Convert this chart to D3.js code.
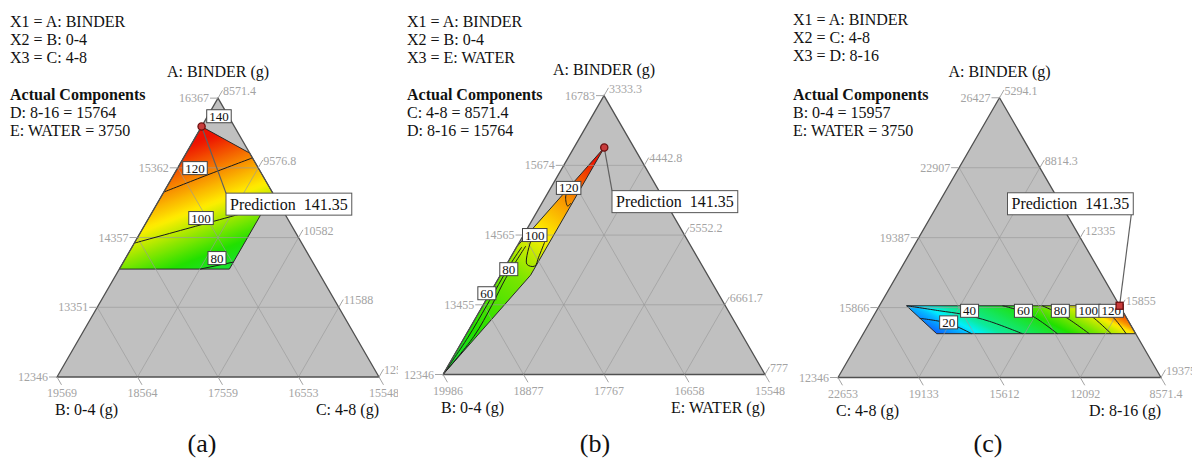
<!DOCTYPE html>
<html lang="en">
<head>
<meta charset="UTF-8" />
<title>Mixture ternary contour plots</title>
<script src="https://d3js.org/d3.v7.min.js"></script>
<style>
  html, body { margin: 0; padding: 0; background: #fff; }
  svg, svg text { font-family: "Liberation Serif", "Times New Roman", "DejaVu Serif", serif; }
</style>
</head>
<body>
<svg id="chart" width="1192" height="461" font-family="Liberation Serif, Times New Roman, DejaVu Serif, serif"></svg>
<script>
/* ---------------- data (grams), points stored as [top, right-corner] ---------------- */
const predictionText = "Prediction  141.35";

// panel (a): A top, B bottom-left, C bottom-right
const aHeader = ["X1 = A: BINDER", "X2 = B: 0-4", "X3 = C: 4-8"];
const aActual = ["D: 8-16 = 15764", "E: WATER = 3750"];
const aNames = ["A: BINDER (g)", "B: 0-4 (g)", "C: 4-8 (g)"];
const aTopTicks = ["16367", "15362", "14357", "13351", "12346"];
const aLeftTicks = ["19569", "18564", "17559", "16553", "15548"];
const aRightTicks = ["8571.4", "9576.8", "10582", "11588", "12593"];
const aRegion = [[15957, 8571.4], [15575, 9363], [14992, 9946], [13902, 9946], [13902, 8571.4]];
const aContourLines = [
  [[15012, 8571.4], [15257, 8989], [15503, 9428]],
  [[14276, 8571.4], [14537, 9262], [14795, 9946]],
  [[13902, 9581], [14003, 9946]]
];
const aLabelLevels = [140, 120, 100, 80];
const aLabelPts = [[16106, 8714], [15358, 8789], [14638, 9224], [14061, 9712]];
const aGradPts = [[15957, 8571.4], [15257, 8989], [14537, 9262], [13953, 9766], [13958, 10232]];
const aGradVals = [142, 120, 100, 80, 74];
const aPoint = [15957, 8571.4];
const aColorDomain = [10, 40, 86, 107, 136];

// panel (b): A top, B bottom-left, E bottom-right
const bHeader = ["X1 = A: BINDER", "X2 = B: 0-4", "X3 = E: WATER"];
const bActual = ["C: 4-8 = 8571.4", "D: 8-16 = 15764"];
const bNames = ["A: BINDER (g)", "B: 0-4 (g)", "E: WATER (g)"];
const bTopTicks = ["16783", "15674", "14565", "13455", "12346"];
const bLeftTicks = ["19986", "18877", "17767", "16658", "15548"];
const bRightTicks = ["3333.3", "4442.8", "5552.2", "6661.7", "7771.1"];
const bRegion = [[15957, 3750], [13926, 3750], [12346, 3333.3], [14380, 3333.3]];
const bContourLines = [
  [[15315, 3580], [15171, 3611], [15027, 3710], [15075, 3734]],
  [[14469, 3481], [14102, 3610], [14070, 3735], [14213, 3718], [14453, 3681]],
  [[12346, 3333.3], [12953, 3456], [13447, 3456], [13878, 3432], [14389, 3452]],
  [[12346, 3333.3], [12937, 3382], [13447, 3387], [14086, 3384], [14373, 3405]]
];
const bLabelLevels = [120, 100, 80, 60];
const bLabelPts = [[15315, 3580], [14565, 3488], [14022, 3402], [13639, 3291]];
const bGradPts = [[15957, 3750], [15315, 3580], [14565, 3488], [14022, 3402], [12346, 3333.3]];
const bGradVals = [142, 120, 100, 82, 58];
const bPoint = [15957, 3750];
const bColorDomain = [5, 32, 68, 102, 136];

// panel (c): A top, C bottom-left, D bottom-right
const cHeader = ["X1 = A: BINDER", "X2 = C: 4-8", "X3 = D: 8-16"];
const cActual = ["B: 0-4 = 15957", "E: WATER = 3750"];
const cNames = ["A: BINDER (g)", "C: 4-8 (g)", "D: 8-16 (g)"];
const cTopTicks = ["26427", "22907", "19387", "15866", "12346"];
const cLeftTicks = ["22653", "19133", "15612", "12092", "8571.4"];
const cRightTicks = ["5294.1", "8814.3", "12335", "15855", "19375"];
const cRegion = [[15957, 6474], [15957, 15764], [14551, 17170], [14551, 8495]];
const cContourLines = [
  [[15324, 7370], [15071, 8755], [14551, 10015]],
  [[15957, 6488], [15703, 8048], [15526, 9137], [15172, 10486], [14551, 12232]],
  [[15957, 10660], [15526, 12049], [14551, 13753]],
  [[15957, 12398], [15424, 13620], [14551, 15144]],
  [[15957, 13876], [15324, 14975], [14551, 16100]],
  [[15957, 14875], [15324, 15844], [14551, 16752]]
];
const cLabelLevels = [20, 40, 60, 80, 100, 120];
const cLabelPts = [[15121, 8730], [15703, 9352], [15703, 11700], [15703, 13308], [15703, 14524], [15703, 15524]];
const cGradPts = [[14551, 8495], [15071, 8755], [15526, 9137], [15526, 12049], [15424, 13620], [15324, 14975], [15324, 15844], [19401, 8182]];
const cGradVals = [8, 20, 40, 60, 80, 100, 120, 141];
const cPoint = [15957, 15764];
const cColorDomain = [2, 26, 62, 108, 138];

const rampColors = ["#1030ff", "#00f0ff", "#20e000", "#ffee00", "#ee1100"];

/* ---------------- layout ---------------- */
const panels = [
  { header: aHeader, actual: aActual, names: aNames, top: aTopTicks, left: aLeftTicks, right: aRightTicks,
    region: aRegion, lines: aContourLines, labLevels: aLabelLevels, labPts: aLabelPts,
    gradPts: aGradPts, gradVals: aGradVals, point: aPoint, colorDomain: aColorDomain, caption: "(a)",
    bx: 57, by: 377, side: 322, textX: 10, headY: 27, clip: [0, 398], capX: 202, marker: "circle" },
  { header: bHeader, actual: bActual, names: bNames, top: bTopTicks, left: bLeftTicks, right: bRightTicks,
    region: bRegion, lines: bContourLines, labLevels: bLabelLevels, labPts: bLabelPts,
    gradPts: bGradPts, gradVals: bGradVals, point: bPoint, colorDomain: bColorDomain, caption: "(b)",
    bx: 443, by: 374.5, side: 322, textX: 407, headY: 27, clip: [398, 788], capX: 595, marker: "circle" },
  { header: cHeader, actual: cActual, names: cNames, top: cTopTicks, left: cLeftTicks, right: cRightTicks,
    region: cRegion, lines: cContourLines, labLevels: cLabelLevels, labPts: cLabelPts,
    gradPts: cGradPts, gradVals: cGradVals, point: cPoint, colorDomain: cColorDomain, caption: "(c)",
    bx: 838, by: 377.5, side: 323, textX: 793, headY: 25, clip: [788, 1192], capX: 988, marker: "square" }
];

const FONT = "Liberation Serif, Times New Roman, DejaVu Serif, serif";
const svg = d3.select("#chart");
const defs = svg.append("defs");
const gridCol = "#9a9a9a", tickCol = "#a3a3a3";

panels.forEach((P, idx) => {
  defs.append("clipPath").attr("id", "clip" + idx)
    .append("rect").attr("x", P.clip[0]).attr("y", 0)
    .attr("width", P.clip[1] - P.clip[0]).attr("height", 461);

  const g = svg.append("g").attr("clip-path", `url(#clip${idx})`).attr("font-family", FONT);
  const side = P.side, h = side * Math.sqrt(3) / 2;

  // response colour ramp (blue -> cyan -> green -> yellow -> red)
  const color = d3.scaleLinear().domain(P.colorDomain).range(rampColors).clamp(true);

  // fractions of the plotted simplex
  const topScale = d3.scaleLinear().domain([+P.top[4], +P.top[0]]).range([0, 1]);
  const rightScale = d3.scaleLinear().domain([+P.right[0], +P.right[4]]).range([0, 1]);
  const fpx = (a, c) => [P.bx + side * (c + a / 2), P.by - h * a];
  const proj = p => fpx(topScale(p[0]), rightScale(p[1]));

  const apex = fpx(1, 0), BL = fpx(0, 0), BR = fpx(0, 1);

  // header text
  const txt = g.append("g").attr("font-size", 16).attr("fill", "#111");
  P.header.forEach((s, i) => txt.append("text").attr("x", P.textX).attr("y", P.headY + i * 18).text(s));
  txt.append("text").attr("x", P.textX).attr("y", 100).attr("font-weight", "bold").text("Actual Components");
  P.actual.forEach((s, i) => txt.append("text").attr("x", P.textX).attr("y", 118 + i * 18).text(s));

  // triangle background
  g.append("path").attr("d", d3.line()([apex, BL, BR]) + "Z").attr("fill", "#c0c0c0");

  // coloured feasible region
  const gp = P.gradPts.map(proj);
  const p0 = gp[0], p1 = gp[gp.length - 1];
  const dx = p1[0] - p0[0], dy = p1[1] - p0[1], L2 = dx * dx + dy * dy;
  const offs = gp.map(p => ((p[0] - p0[0]) * dx + (p[1] - p0[1]) * dy) / L2);
  const valAt = d3.scaleLinear().domain(offs).range(P.gradVals);
  const lg = defs.append("linearGradient").attr("id", "grad" + idx)
    .attr("gradientUnits", "userSpaceOnUse")
    .attr("x1", p0[0]).attr("y1", p0[1]).attr("x2", p1[0]).attr("y2", p1[1]);
  d3.range(0, 51).forEach(k => {
    const t = k / 50;
    lg.append("stop").attr("offset", t).attr("stop-color", color(valAt(t)));
  });
  g.append("path").attr("d", d3.line()(P.region.map(proj)) + "Z")
    .attr("fill", `url(#grad${idx})`).attr("stroke", "#2a2a2a").attr("stroke-width", 1);

  // grid lines at quarters
  const grid = g.append("g").attr("stroke", gridCol).attr("stroke-opacity", 0.65).attr("stroke-width", 1);
  [0.25, 0.5, 0.75].forEach(f => {
    grid.append("line").attr("x1", fpx(f, 0)[0]).attr("y1", fpx(f, 0)[1]).attr("x2", fpx(f, 1 - f)[0]).attr("y2", fpx(f, 1 - f)[1]);
    grid.append("line").attr("x1", fpx(0, f)[0]).attr("y1", fpx(0, f)[1]).attr("x2", fpx(1 - f, f)[0]).attr("y2", fpx(1 - f, f)[1]);
    grid.append("line").attr("x1", fpx(0, 1 - f)[0]).attr("y1", fpx(0, 1 - f)[1]).attr("x2", fpx(1 - f, 0)[0]).attr("y2", fpx(1 - f, 0)[1]);
  });

  // contour lines
  const curve = d3.line().curve(d3.curveCatmullRom.alpha(0.5));
  g.append("g").selectAll("path").data(P.lines).join("path")
    .attr("d", d => curve(d.map(proj)))
    .attr("fill", "none").attr("stroke", "#1a1a1a").attr("stroke-width", 1);

  // triangle outline
  g.append("path").attr("d", d3.line()([apex, BL, BR]) + "Z")
    .attr("fill", "none").attr("stroke", "#505050").attr("stroke-width", 1.3);

  // ticks and tick labels
  const ticks = g.append("g").attr("font-size", 12).attr("fill", tickCol);
  const tl = g.append("g").attr("stroke", tickCol).attr("stroke-width", 1);
  P.top.forEach(s => {
    const p = proj([+s, +P.right[0]]);
    tl.append("line").attr("x1", p[0]).attr("y1", p[1]).attr("x2", p[0] - 8).attr("y2", p[1]);
    ticks.append("text").attr("x", p[0] - 9).attr("y", p[1] + 4).attr("text-anchor", "end").text(s);
  });
  P.right.forEach(s => {
    const c = rightScale(+s);
    const p = fpx(1 - c, c);
    tl.append("line").attr("x1", p[0]).attr("y1", p[1]).attr("x2", p[0] + 4.5).attr("y2", p[1] - 7.8);
    ticks.append("text").attr("x", p[0] + 5).attr("y", p[1] - 3).text(s);
  });
  P.left.forEach((s, i) => {
    const p = fpx(0, i / 4);
    tl.append("line").attr("x1", p[0]).attr("y1", p[1]).attr("x2", p[0] + 4.5).attr("y2", p[1] + 7.8);
    ticks.append("text").attr("x", p[0] + 5).attr("y", p[1] + 20).attr("text-anchor", "middle").text(s);
  });

  // corner names
  const nm = g.append("g").attr("font-size", 16).attr("fill", "#111");
  nm.append("text").attr("x", apex[0]).attr("y", apex[1] - 21).attr("text-anchor", "middle").text(P.names[0]);
  nm.append("text").attr("x", BL[0] - 2).attr("y", BL[1] + 38).text(P.names[1]);
  nm.append("text").attr("x", BR[0]).attr("y", BR[1] + 38).attr("text-anchor", "end").text(P.names[2]);

  // caption
  g.append("text").attr("x", P.capX).attr("y", 452).attr("text-anchor", "middle")
    .attr("font-size", 26).attr("fill", "#111").text(P.caption);

  // prediction leader + box
  const pt = proj(P.point);
  const boxX = apex[0] + 8, boxY = apex[1] + 95;
  const leader = g.append("line");
  const box = g.append("g");
  const bt = box.append("text").attr("x", boxX + 4).attr("y", boxY + 16.5)
    .attr("font-size", 16).attr("fill", "#111").style("white-space", "pre").text(predictionText);
  const bw = bt.node().getComputedTextLength() + 8, bh = 22;
  const end = pt[1] < boxY ? [boxX, boxY] : [boxX + bw - 2, boxY + bh];
  leader.attr("x1", pt[0]).attr("y1", pt[1]).attr("x2", end[0]).attr("y2", end[1])
    .attr("stroke", "#606060").attr("stroke-width", 1.2);
  box.insert("rect", "text").attr("x", boxX).attr("y", boxY).attr("width", bw).attr("height", bh)
    .attr("fill", "#fff").attr("stroke", "#555").attr("stroke-width", 1);

  // contour labels
  P.labLevels.forEach((lv, i) => {
    const p = proj(P.labPts[i]);
    const lgp = g.append("g");
    const t = lgp.append("text").attr("x", p[0]).attr("y", p[1] + 4.5).attr("text-anchor", "middle")
      .attr("font-size", 13).attr("fill", "#111").text(lv);
    const w = t.node().getComputedTextLength() + 5;
    lgp.insert("rect", "text").attr("x", p[0] - w / 2).attr("y", p[1] - 6.5).attr("width", w).attr("height", 13)
      .attr("fill", "#fff").attr("stroke", "#444").attr("stroke-width", 1);
  });

  // design point marker
  if (P.marker === "circle") {
    g.append("circle").attr("cx", pt[0]).attr("cy", pt[1]).attr("r", 3.6)
      .attr("fill", "#c83c3c").attr("stroke", "#6e0f0f").attr("stroke-width", 1.3);
  } else {
    g.append("rect").attr("x", pt[0] - 3.5).attr("y", pt[1] - 3.5).attr("width", 7).attr("height", 7)
      .attr("fill", "#c83c3c").attr("stroke", "#6e0f0f").attr("stroke-width", 1.3);
  }
});
</script>
</body>
</html>
